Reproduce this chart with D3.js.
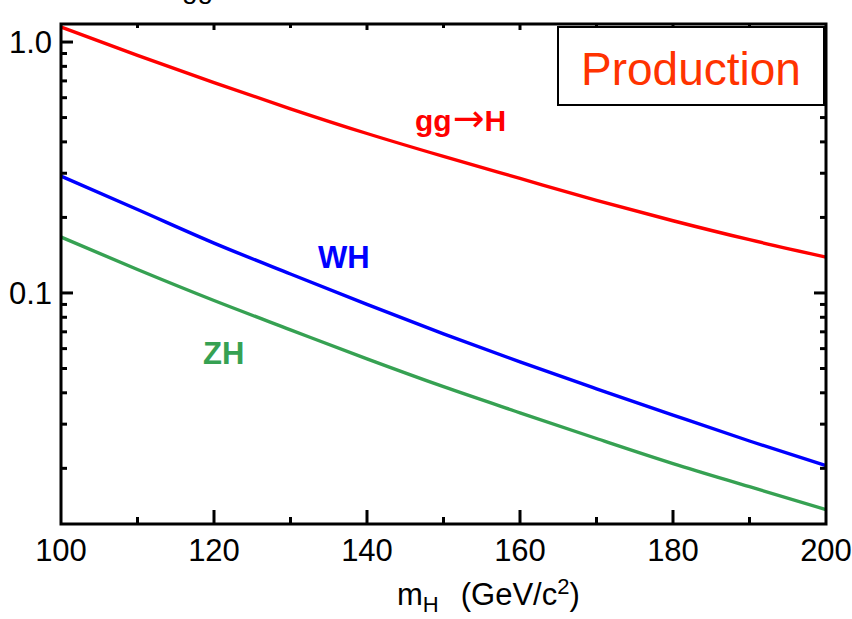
<!DOCTYPE html>
<html>
<head>
    <title></title>
    <meta charset="utf-8">
    <style>
        body { margin: 0; background: #fff; }
        text { font-family: "Liberation Sans", Arial, sans-serif; }
    </style>
</head>
<body>
<script src="https://d3js.org/d3.v7.min.js"></script>
<script>
    // Higgs mass points (GeV/c^2)
    var masses = [100, 110, 120, 130, 140, 150, 160, 170, 180, 190, 200];

    // cross sections (pb)
    var ggH = [1.148, 0.885, 0.689, 0.542, 0.432, 0.350, 0.286, 0.234, 0.194, 0.163, 0.139];
    var WH  = [0.292, 0.215, 0.158, 0.119, 0.0901, 0.0687, 0.0531, 0.0415, 0.0326, 0.0257, 0.0205];
    var ZH  = [0.167, 0.124, 0.0933, 0.0713, 0.0546, 0.0423, 0.0333, 0.0263, 0.0209, 0.0169, 0.0137];

    var xTicks = [100, 120, 140, 160, 180, 200];
    var xMinor = [110, 130, 150, 170, 190];
    var yLabels = [1.0, 0.1];
    var yMinor = [0.02, 0.03, 0.04, 0.05, 0.06, 0.07, 0.08, 0.09, 0.2, 0.3, 0.4, 0.5, 0.6, 0.7, 0.8, 0.9];

    var W = 852, H = 619;
    var pL = 61, pR = 826, pT = 24, pB = 524;

    var svg = d3.select('body').append('svg')
        .attr('width', W)
        .attr('height', H);

    var x = d3.scaleLinear().domain([100, 200]).range([pL, pR]);
    var y = d3.scaleLog().domain([0.0120, 1.18]).range([pB, pT]);

    // cut-off title fragment at the very top
    svg.append('text').attr('x', 182).attr('y', -2)
        .style('font-size', '28px').text('gg');

    // curves
    var line = d3.line()
        .x(function (d, i) { return x(masses[i]); })
        .y(function (d) { return y(d); })
        .curve(d3.curveMonotoneX);

    var series = [
        { vals: ggH, color: '#ff0000' },
        { vals: WH, color: '#0000ff' },
        { vals: ZH, color: '#36a152' }
    ];
    series.forEach(function (s) {
        svg.append('path').datum(s.vals)
            .attr('d', line)
            .attr('fill', 'none')
            .attr('stroke', s.color)
            .attr('stroke-width', 3.4);
    });

    // ticks on all four sides, pointing inward
    var g = svg.append('g').attr('stroke', '#000').attr('stroke-width', 3);
    xTicks.slice(1, -1).forEach(function (v) {
        g.append('line').attr('x1', x(v)).attr('x2', x(v)).attr('y1', pB).attr('y2', pB - 14);
        g.append('line').attr('x1', x(v)).attr('x2', x(v)).attr('y1', pT).attr('y2', pT + 6);
    });
    xMinor.forEach(function (v) {
        g.append('line').attr('x1', x(v)).attr('x2', x(v)).attr('y1', pB).attr('y2', pB - 7);
        g.append('line').attr('x1', x(v)).attr('x2', x(v)).attr('y1', pT).attr('y2', pT + 4);
    });
    yLabels.forEach(function (v) {
        g.append('line').attr('x1', pL).attr('x2', pL + 12).attr('y1', y(v)).attr('y2', y(v));
        g.append('line').attr('x1', pR).attr('x2', pR - 12).attr('y1', y(v)).attr('y2', y(v));
    });
    yMinor.forEach(function (v) {
        g.append('line').attr('x1', pL).attr('x2', pL + 6).attr('y1', y(v)).attr('y2', y(v));
        g.append('line').attr('x1', pR).attr('x2', pR - 6).attr('y1', y(v)).attr('y2', y(v));
    });

    // frame
    svg.append('rect')
        .attr('x', pL).attr('y', pT)
        .attr('width', pR - pL).attr('height', pB - pT)
        .attr('fill', 'none').attr('stroke', '#000').attr('stroke-width', 3);

    // tick labels
    svg.selectAll('.xl').data(xTicks).enter().append('text')
        .attr('x', function (d) { return x(d); })
        .attr('y', 561)
        .attr('text-anchor', 'middle')
        .style('font-size', '31px')
        .text(function (d) { return d; });

    svg.selectAll('.yl').data(yLabels).enter().append('text')
        .attr('x', 52)
        .attr('y', function (d) { return y(d) + 11; })
        .attr('text-anchor', 'end')
        .style('font-size', '31px')
        .text(function (d) { return d.toFixed(1); });

    // axis title
    var t = svg.append('text').attr('x', 397).attr('y', 605).style('font-size', '31px');
    t.append('tspan').text('m');
    t.append('tspan').attr('dy', 7).style('font-size', '22px').text('H');
    t.append('tspan').attr('dy', -7).attr('dx', 22).text('(GeV/c');
    t.append('tspan').attr('dy', -11).style('font-size', '22px').text('2');
    t.append('tspan').attr('dy', 11).text(')');

    // curve labels
    var gl = svg.append('text').attr('x', 415).attr('y', 131)
        .style('font-size', '30px').style('font-weight', 'bold')
        .attr('fill', '#ff0000');
    gl.append('tspan').text('gg');
    gl.append('tspan').style('font-family', '"DejaVu Sans"').style('font-weight', 'normal')
        .style('font-size', '38px').attr('dx', 1).text('\u2192');
    gl.append('tspan').text('H');
    svg.append('text').attr('x', 318).attr('y', 268)
        .style('font-size', '31px').style('font-weight', 'bold')
        .attr('fill', '#0000ff').text('WH');
    svg.append('text').attr('x', 203).attr('y', 364)
        .style('font-size', '31px').style('font-weight', 'bold')
        .attr('fill', '#36a152').text('ZH');

    // "Production" box
    svg.append('rect')
        .attr('x', 558).attr('y', 27).attr('width', 266).attr('height', 78)
        .attr('fill', '#fff').attr('stroke', '#000').attr('stroke-width', 2);
    svg.append('text').attr('x', 691).attr('y', 85)
        .attr('text-anchor', 'middle')
        .style('font-size', '46px')
        .attr('fill', '#ff3300').text('Production');
</script>
</body>
</html>
